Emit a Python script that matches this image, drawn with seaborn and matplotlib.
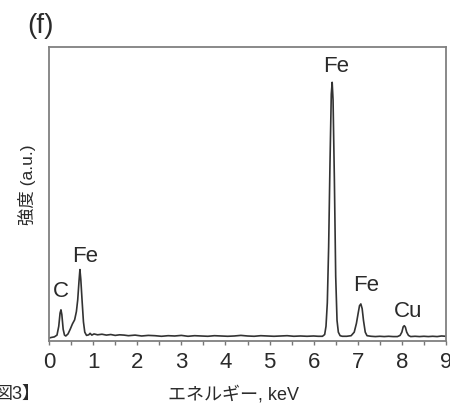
#!/usr/bin/env python3
"""
EDS spectrum (f) - intensity vs energy
"""

import matplotlib
matplotlib.use('Agg')
import matplotlib.pyplot as plt
import pandas as pd
import seaborn as sns
from matplotlib.ticker import MultipleLocator

# Spectrum (energy in keV, intensity in arbitrary units)
energy = [0.00, 0.05, 0.12, 0.18, 0.22, 0.25, 0.27, 0.29, 0.32, 0.35,
          0.38, 0.43, 0.48, 0.53, 0.58, 0.62, 0.65, 0.68, 0.70, 0.72,
          0.75, 0.78, 0.81, 0.85, 0.90, 0.93, 0.97, 1.02, 1.10, 1.20,
          1.30, 1.40, 1.50, 1.60, 1.70, 1.80, 1.95, 2.10, 2.25, 2.40,
          2.55, 2.70, 2.85, 3.00, 3.15, 3.30, 3.45, 3.60, 3.75, 3.90,
          4.05, 4.20, 4.35, 4.50, 4.65, 4.80, 4.95, 5.10, 5.25, 5.40,
          5.55, 5.70, 5.85, 6.00, 6.10, 6.20, 6.25, 6.28, 6.31, 6.34,
          6.37, 6.40, 6.42, 6.44, 6.47, 6.50, 6.53, 6.56, 6.60, 6.65,
          6.75, 6.85, 6.92, 6.97, 7.01, 7.04, 7.07, 7.10, 7.13, 7.17,
          7.21, 7.30, 7.40, 7.50, 7.60, 7.70, 7.80, 7.90, 7.96, 8.00,
          8.03, 8.055, 8.08, 8.11, 8.15, 8.20, 8.30, 8.40, 8.50, 8.60,
          8.70, 8.80, 8.90, 9.00]
intensity = [1.0, 1.2, 1.4, 2.0, 5.0, 9.5, 10.6, 9.0, 4.0, 2.0,
             1.7, 2.4, 4.0, 5.8, 7.2, 10.0, 14.0, 20.5, 24.3, 21.0,
             13.5, 6.5, 3.0, 1.9, 2.1, 2.6, 2.0, 2.4, 2.1, 2.3,
             2.0, 2.2, 1.9, 2.1, 2.0, 1.8, 2.0, 1.7, 1.9, 1.8,
             1.6, 1.8, 1.7, 1.9, 1.6, 1.8, 1.7, 1.6, 1.8, 1.7,
             1.6, 1.7, 1.9, 1.7, 1.6, 1.8, 1.7, 1.6, 1.7, 1.8,
             1.6, 1.7, 1.6, 1.7, 1.6, 1.6, 2.2, 5.0, 13.0, 32.0,
             60.0, 84.0, 88.0, 82.0, 55.0, 22.0, 7.0, 3.0, 1.8, 1.6,
             1.6, 1.8, 3.0, 6.0, 9.5, 12.0, 12.6, 11.0, 7.0, 3.0,
             1.8, 1.6, 1.5, 1.6, 1.5, 1.6, 1.5, 1.5, 1.9, 3.0,
             4.8, 5.2, 4.7, 3.0, 1.9, 1.5, 1.6, 1.5, 1.6, 1.5,
             1.6, 1.5, 1.7, 1.6]

# Peak labels: element, energy position, height of label
peak_names = ['C', 'Fe', 'Fe', 'Fe', 'Cu']
peak_x = [0.27, 0.82, 6.51, 7.19, 8.14]
peak_y = [16.7, 28.9, 93.5, 19.0, 10.2]

xticks = [0, 1, 2, 3, 4, 5, 6, 7, 8, 9]


def main():
    sns.set_theme(style='white')
    # latin glyphs from Liberation Sans, Japanese falls back to Noto CJK
    mixed = ['Liberation Sans', 'Noto Sans CJK JP', 'DejaVu Sans']
    plt.rcParams['font.family'] = mixed

    df = pd.DataFrame({'energy': energy, 'intensity': intensity})

    fig = plt.figure(figsize=(4.5, 4.09), dpi=100)
    ax = fig.add_axes([0.109, 0.1663, 0.882, 0.7187])

    sns.lineplot(data=df, x='energy', y='intensity', ax=ax, sort=False,
                 estimator=None, color='#333333', linewidth=1.2)

    for name, px, py in zip(peak_names, peak_x, peak_y):
        ax.text(px, py, name, ha='center', va='center', fontsize=16,
                color='#2a2a2a')

    ax.set_xlim(0, 9)
    ax.set_ylim(0, 100)
    ax.set_xticks(xticks)
    ax.xaxis.set_minor_locator(MultipleLocator(0.5))
    ax.set_yticks([])
    ax.tick_params(axis='x', which='both', direction='out', length=3,
                   width=1, color='#777777', bottom=True, pad=5,
                   labelsize=16, labelcolor='#2a2a2a')
    ax.set_xlabel('')
    ax.set_ylabel('')

    for side in ['left', 'right', 'top', 'bottom']:
        ax.spines[side].set_visible(True)
        ax.spines[side].set_color('#808080')
        ax.spines[side].set_linewidth(1.3)

    # Axis titles and panel marks
    fig.text(0.518, 0.035, 'エネルギー, keV', ha='center', va='center',
             fontsize=13, color='#2a2a2a', family=mixed)
    fig.text(0.059, 0.548, '強度 (a.u.)', ha='center', va='center',
             rotation=90, fontsize=12.5, color='#2a2a2a', family=mixed)
    fig.text(0.091, 0.936, '(f)', ha='center', va='center', fontsize=20,
             color='#2a2a2a')
    fig.text(-0.013, 0.035, '図3】', ha='left', va='center', fontsize=13,
             color='#2a2a2a', family=mixed)

    fig.savefig('out.png', dpi=100, facecolor='white')
    plt.close(fig)


if __name__ == "__main__":
    main()
